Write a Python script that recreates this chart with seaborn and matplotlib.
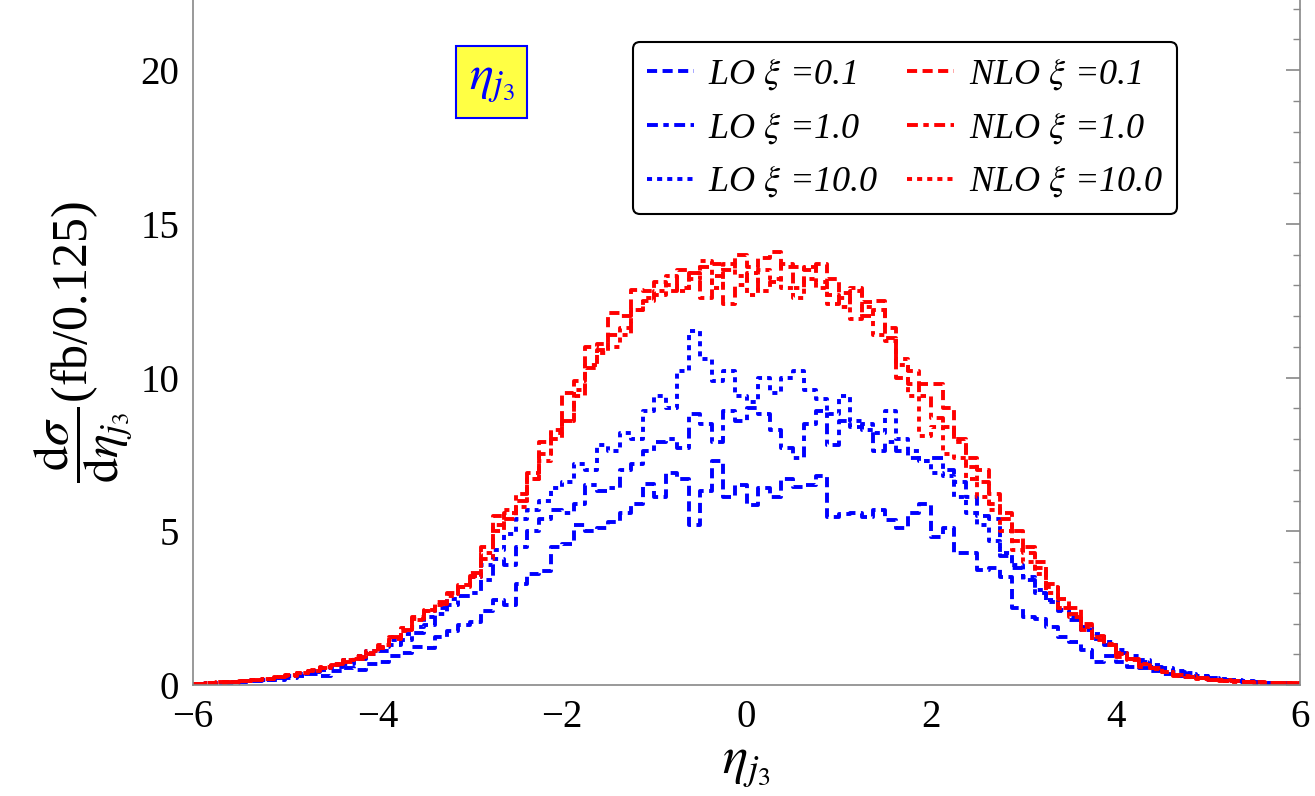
import numpy as np
import pandas as pd
import seaborn as sns
import matplotlib.pyplot as plt
from matplotlib.ticker import MultipleLocator

# bins of width 0.125 from -6 to 6
centers = np.arange(-6, 6, 0.125) + 0.0625

lo_01 = [0.03, 0.05, 0.06, 0.08, 0.10, 0.12, 0.15, 0.18,
         0.22, 0.28, 0.35, 0.30, 0.45, 0.55, 0.50, 0.70,
         0.75, 0.95, 1.05, 1.25, 1.20, 1.55, 1.75, 1.95,
         2.05, 2.40, 2.75, 2.60, 3.30, 3.60, 3.70, 4.50,
         4.60, 5.20, 5.00, 5.10, 5.30, 5.60, 5.90, 6.55,
         6.10, 6.90, 6.70, 5.20, 6.30, 7.30, 6.10, 6.50,
         5.85, 6.40, 6.10, 6.70, 6.45, 6.50, 6.80, 5.45,
         5.55, 5.60, 5.45, 5.70, 5.37, 5.10, 5.60, 5.90,
         4.80, 5.10, 4.30, 4.30, 3.75, 3.80, 3.50, 2.50,
         2.20, 2.15, 1.90, 1.55, 1.40, 1.15, 0.75, 0.95,
         0.75, 0.60, 0.55, 0.45, 0.35, 0.30, 0.25, 0.22,
         0.18, 0.15, 0.12, 0.10, 0.08, 0.06, 0.05, 0.05]

lo_1 = [0.04, 0.06, 0.08, 0.10, 0.12, 0.15, 0.18, 0.22,
        0.28, 0.35, 0.42, 0.50, 0.58, 0.70, 0.85, 1.00,
        1.10, 1.30, 1.45, 1.70, 1.95, 2.30, 2.60, 2.90,
        3.00, 3.40, 4.10, 3.90, 4.50, 5.00, 5.40, 5.70,
        5.60, 5.90, 6.50, 6.30, 6.40, 7.00, 7.20, 7.60,
        7.90, 8.00, 7.70, 8.80, 8.50, 7.90, 8.90, 8.60,
        9.00, 8.80, 8.30, 7.70, 7.40, 8.50, 8.90, 7.80,
        8.60, 8.40, 8.50, 7.60, 7.90, 7.60, 7.40, 7.30,
        7.40, 7.00, 6.60, 6.10, 5.50, 5.40, 4.20, 3.80,
        3.40, 3.00, 2.70, 2.40, 2.10, 1.80, 1.50, 1.30,
        1.05, 0.85, 0.75, 0.60, 0.50, 0.42, 0.35, 0.28,
        0.22, 0.18, 0.14, 0.11, 0.09, 0.07, 0.06, 0.05]

lo_10 = [0.04, 0.06, 0.08, 0.10, 0.13, 0.16, 0.20, 0.24,
         0.30, 0.37, 0.45, 0.55, 0.65, 0.80, 0.95, 1.10,
         1.25, 1.45, 1.65, 1.90, 2.20, 2.50, 2.80, 3.20,
         3.50, 3.90, 4.40, 4.90, 5.40, 5.70, 6.00, 6.40,
         6.60, 7.20, 7.00, 7.80, 7.60, 8.20, 8.00, 8.90,
         9.40, 9.00, 10.20, 11.50, 10.60, 9.90, 10.20, 9.40,
         9.20, 10.00, 9.50, 10.00, 10.20, 9.60, 9.30, 8.80,
         9.40, 8.60, 8.30, 8.20, 8.90, 8.00, 7.60, 7.30,
         6.90, 6.80, 6.10, 5.60, 5.20, 4.70, 4.30, 3.90,
         3.50, 3.10, 2.75, 2.45, 2.20, 1.90, 1.65, 1.40,
         1.15, 0.95, 0.80, 0.65, 0.55, 0.45, 0.38, 0.30,
         0.24, 0.19, 0.15, 0.12, 0.10, 0.08, 0.06, 0.05]

nlo_01 = [0.05, 0.07, 0.09, 0.11, 0.14, 0.17, 0.20, 0.25,
          0.30, 0.38, 0.45, 0.55, 0.65, 0.75, 0.85, 1.00,
          1.20, 1.50, 1.80, 2.20, 2.45, 2.65, 3.00, 3.20,
          3.65, 4.50, 5.50, 5.40, 6.00, 6.90, 7.90, 8.20,
          9.50, 9.90, 11.00, 11.10, 12.10, 12.00, 12.85, 12.80,
          13.10, 13.00, 13.50, 13.40, 13.60, 13.70, 13.50, 14.00,
          13.60, 13.90, 14.10, 13.60, 13.60, 13.50, 13.70, 13.20,
          12.75, 12.80, 12.45, 12.50, 11.30, 10.00, 9.80, 9.80,
          9.80, 9.00, 8.00, 7.40, 7.00, 5.90, 5.40, 4.70,
          4.30, 4.00, 3.30, 2.50, 2.50, 1.80, 1.45, 1.30,
          0.90, 0.85, 0.60, 0.55, 0.43, 0.30, 0.25, 0.22,
          0.18, 0.15, 0.12, 0.11, 0.09, 0.08, 0.07, 0.08]

nlo_1 = [0.05, 0.06, 0.09, 0.11, 0.13, 0.16, 0.20, 0.26,
         0.32, 0.40, 0.47, 0.55, 0.68, 0.80, 0.90, 1.05,
         1.25, 1.55, 1.75, 2.10, 2.40, 2.70, 2.95, 3.25,
         3.55, 4.30, 5.20, 5.60, 6.20, 6.70, 7.50, 8.00,
         8.60, 9.40, 10.30, 10.90, 11.40, 11.60, 12.20, 12.50,
         12.70, 12.80, 12.90, 13.40, 12.60, 13.30, 12.40, 13.00,
         13.40, 12.80, 13.10, 13.70, 12.90, 13.60, 13.10, 12.70,
         12.30, 12.90, 12.00, 12.20, 11.60, 10.60, 10.20, 9.40,
         8.70, 8.40, 7.90, 7.10, 6.60, 6.20, 5.60, 5.00,
         4.50, 3.80, 3.20, 2.80, 2.30, 2.00, 1.60, 1.35,
         1.05, 0.85, 0.70, 0.55, 0.42, 0.34, 0.28, 0.23,
         0.18, 0.14, 0.12, 0.10, 0.08, 0.07, 0.06, 0.06]

nlo_10 = [0.04, 0.06, 0.08, 0.10, 0.13, 0.17, 0.21, 0.26,
          0.33, 0.40, 0.48, 0.58, 0.70, 0.82, 0.95, 1.10,
          1.30, 1.55, 1.85, 2.15, 2.40, 2.60, 2.90, 3.20,
          3.50, 4.10, 5.00, 5.70, 5.80, 6.70, 7.30, 8.30,
          8.60, 9.60, 10.40, 10.80, 11.00, 11.40, 12.20, 12.60,
          12.80, 13.30, 12.80, 13.20, 13.80, 12.90, 13.70, 13.30,
          12.70, 13.50, 13.20, 12.90, 12.60, 13.20, 12.90, 12.40,
          12.60, 11.90, 12.30, 11.40, 11.20, 10.40, 9.40, 8.10,
          8.40, 7.50, 7.40, 6.70, 6.10, 5.70, 5.00, 4.40,
          4.00, 3.60, 3.00, 2.50, 2.20, 1.90, 1.55, 1.30,
          1.00, 0.80, 0.65, 0.52, 0.42, 0.33, 0.26, 0.21,
          0.17, 0.14, 0.11, 0.09, 0.08, 0.07, 0.06, 0.05]

labels = [r"LO $\xi$ =0.1", r"LO $\xi$ =1.0", r"LO $\xi$ =10.0",
          r"NLO $\xi$ =0.1", r"NLO $\xi$ =1.0", r"NLO $\xi$ =10.0"]
series = [lo_01, lo_1, lo_10, nlo_01, nlo_1, nlo_10]
colors = ["#0000ff"] * 3 + ["#ff0000"] * 3
dash_styles = [(0, (2.6, 1.4)), (0, (2.8, 1.4, 1.4, 1.4)), (0, (1.3, 1.3))] * 2

sns.set_style("white")
plt.rcParams["font.family"] = ["Liberation Serif", "DejaVu Serif"]
plt.rcParams["mathtext.fontset"] = "stix"
plt.rcParams["text.color"] = "black"
plt.rcParams["axes.labelcolor"] = "black"

fig = plt.figure(figsize=(13.15, 7.96), dpi=100)
ax = fig.add_axes([0.1468, 0.1394, 0.8418, 0.8606])

for vals, lab, col, ls in zip(series, labels, colors, dash_styles):
    df = pd.DataFrame({"eta": centers, "w": vals})
    sns.histplot(data=df, x="eta", weights="w", binwidth=0.125, binrange=(-6, 6),
                 element="step", fill=False, color=col, linestyle=ls,
                 linewidth=2.8, label=lab, ax=ax)

ax.set_xlim(-6, 6)
ax.set_ylim(0, 22.28)
ax.xaxis.set_major_locator(MultipleLocator(2))
ax.xaxis.set_minor_locator(MultipleLocator(0.5))
ax.yaxis.set_major_locator(MultipleLocator(5))
ax.yaxis.set_minor_locator(MultipleLocator(1))
ax.tick_params(which="both", direction="in", color="#888888", right=True,
               labelsize=28, pad=10, labelcolor="black")
ax.tick_params(which="major", length=10, width=1.2)
ax.tick_params(which="minor", length=5, width=1.0)
xt = ax.get_xticks()
ax.set_xticks(xt)
ax.set_xticklabels([f"{int(t)}" if t >= 0 else f"\u2212{int(-t)}" for t in xt])
ax.set_xlim(-6, 6)
for side in ["left", "bottom", "right"]:
    ax.spines[side].set_color("#888888")
    ax.spines[side].set_linewidth(1.2)
ax.spines["top"].set_visible(False)

ax.set_xlabel(r"$\eta_{j_3}$", fontsize=38, labelpad=4)
ax.set_ylabel(r"$\dfrac{\mathrm{d}\sigma}{\mathrm{d}\eta_{j_3}}$(fb/0.125)", fontsize=36, labelpad=4)

ax.text(0.270, 0.880, r"$\eta_{j_3}$", transform=ax.transAxes, fontsize=36,
        color="#0000ff", ha="center", va="center",
        bbox=dict(boxstyle="square,pad=0.25", facecolor="#ffff44", edgecolor="#0000ff", linewidth=1.5))

leg = ax.legend(ncol=2, loc="upper left", bbox_to_anchor=(0.397, 0.939), borderaxespad=0,
                prop={"family": ["Liberation Serif"], "style": "italic", "size": 26},
                handlelength=1.3, handletextpad=0.4, columnspacing=0.8, labelspacing=0.5,
                frameon=True, fancybox=True, edgecolor="black", borderpad=0.4)
leg.get_frame().set_linewidth(1.5)
leg.get_frame().set_alpha(1)

fig.savefig("out.png", dpi=100)
